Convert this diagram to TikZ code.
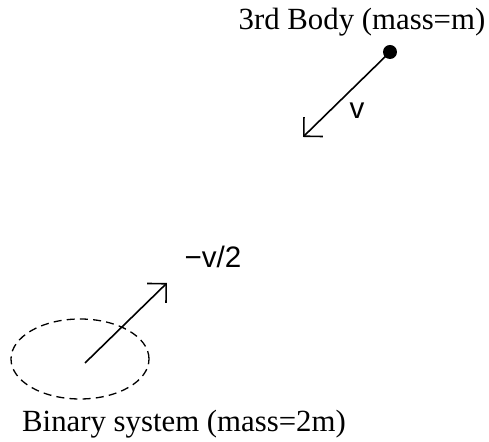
\documentclass[tikz,border=0pt]{standalone}
\usepackage{fontspec}
\setmainfont{Liberation Serif}
\setsansfont{Liberation Sans}
\usetikzlibrary{arrows.meta,shapes.geometric}
\begin{document}
\begin{tikzpicture}[x=0.5pt,y=-0.5pt,
    lbl/.style={inner sep=0pt, font=\fontsize{15.4}{18}\selectfont},
    vlbl/.style={inner sep=0pt, font=\sffamily\fontsize{14.8}{18}\selectfont},
    vec/.style={line width=0.8pt, -{Straight Barb[length=6.7pt,width=13.5pt,line width=0.8pt]}}
]
\useasboundingbox (0,0) rectangle (489,442);
% third body and its velocity
\node[circle, fill=black, inner sep=0pt, minimum size=7pt] (body) at (390,52) {};
\coordinate (vtip) at (303,137);
\draw[vec] (body.center) -- (vtip);
\node[vlbl] (v) at (357,111) {v};
\node[lbl] (bodylbl) at (362,22) {3rd Body (mass=m)};
% binary system
\node[draw, dash pattern=on 4pt off 2.6pt, line width=0.65pt, ellipse, minimum width=69pt, minimum height=40pt, inner sep=0pt] (binary) at (80,359) {};
\coordinate (bstart) at (85,363);
\coordinate (btip) at (167,283);
\draw[vec] (bstart) -- (btip);
\node[vlbl] (vhalf) at (213,257) {−v/2};
\node[lbl] (binlbl) at (184,424) {Binary system (mass=2m)};
\end{tikzpicture}
\end{document}
